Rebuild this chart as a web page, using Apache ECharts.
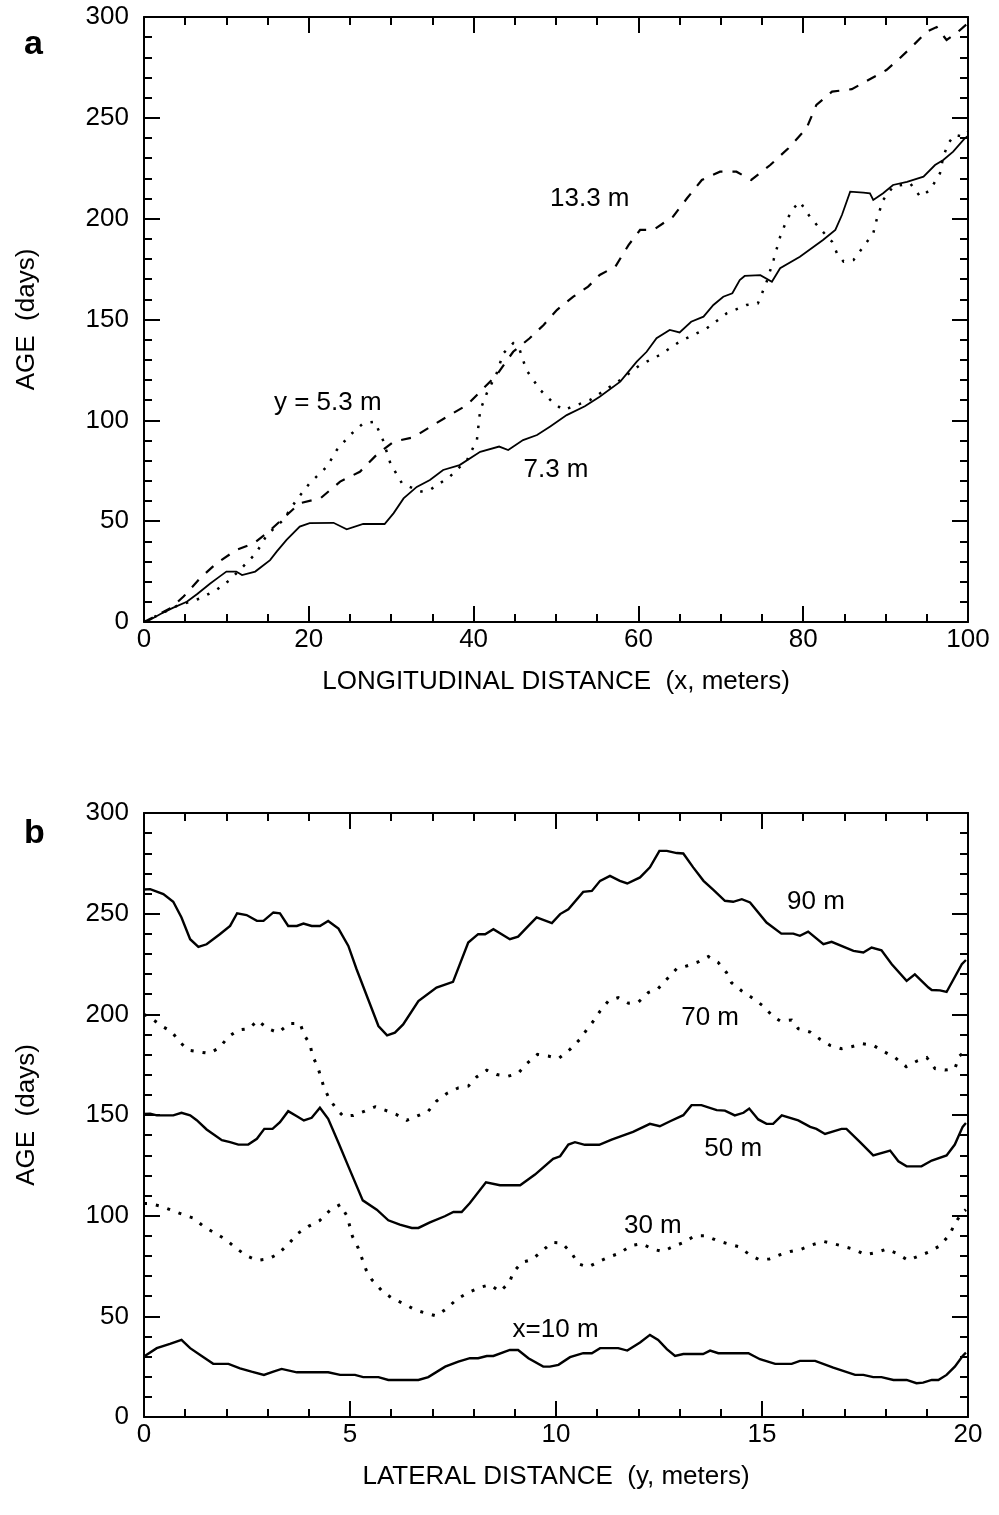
<!DOCTYPE html>
<html>
<head>
<meta charset="utf-8">
<script src="https://cdn.jsdelivr.net/npm/echarts@6/dist/echarts.min.js"></script>
<style>
html,body{margin:0;padding:0;background:#fff;}
#c{width:999px;height:1515px;}
</style>
</head>
<body>
<div id="c"></div>
<script>
// ---------- Panel a: AGE vs LONGITUDINAL DISTANCE ----------
const aXTicks = [0, 20, 40, 60, 80, 100];
const aYTicks = [0, 50, 100, 150, 200, 250, 300];

// y = 7.3 m (solid)
const a73 = [[0,0],[0.7,1],[2,4],[3.5,7],[5.2,10],[6.5,14],[8,19],[9,22],[10,25],[11.2,25],[11.9,23.3],[13.5,25],[15.3,30.7],[16.1,34.9],[17.3,40.7],[18.9,47.3],[20.1,49],[23,49.2],[24.6,46],[26.6,48.6],[29.2,48.6],[30.3,54],[31.5,61.3],[33.1,67],[34.7,70.4],[36.3,75.4],[38.3,77.8],[40.8,84.4],[43.1,87],[44.2,85.3],[46,90.2],[47.7,92.7],[49.3,97],[51.3,102.6],[53.5,107],[55.3,111.7],[57.8,119.2],[59.8,129.1],[61,134],[62.2,140.7],[63.8,144.8],[65,143.6],[66.4,148.9],[67.9,151.4],[69.1,157.2],[70.3,161.3],[71.4,163],[72.3,169.6],[72.9,171.6],[74.8,172],[76.2,168.7],[77.2,175.4],[79.6,181.1],[82.4,189.4],[83.9,194.4],[84.7,201.8],[85.7,213.4],[87.3,212.9],[88.1,212.6],[88.5,209.3],[89.7,212.6],[90.9,216.7],[92.6,218.3],[94.6,220.8],[96,226.6],[97,229.1],[98.2,233.2],[99.6,239.8],[100,241]];

// y = 5.3 m (dotted)
const a53 = [[0,0],[2,4],[4,8],[6.8,11.7],[8.8,15.9],[10.4,20.8],[12,27.4],[13.6,34.1],[14.9,43.1],[16.9,50.6],[18.5,60.5],[20.1,68.8],[22.2,77],[23.4,85.3],[25,92.7],[26.6,98.5],[28,99.3],[29,90.2],[29.9,78.7],[31.3,68.8],[33.5,64.6],[34.7,65.5],[37.1,72],[39.2,80.3],[40.4,90.2],[40.8,105],[41.6,113.4],[42.8,123.3],[43.6,133.2],[44.8,138.2],[45.6,134.9],[46.4,125],[48.1,115],[49.7,108.6],[50.9,105.1],[54.1,110],[57.8,120],[60.2,127.4],[62.6,132.4],[65,139],[68.3,145.6],[70.7,153],[73.1,157.2],[74.5,158],[75.5,167.9],[76.4,179.5],[77.2,191],[78,199.3],[78.8,205.1],[79.6,208.4],[80.8,201],[82,195.2],[83.5,188.6],[84.1,182.8],[84.9,178.7],[86.1,179.5],[87.3,186.1],[88.5,192.7],[88.9,199.3],[89.7,209.3],[90.9,215.9],[93,217.5],[94.2,210.9],[95.4,214.2],[96.6,222.5],[97,230.7],[97.6,237.4],[98.4,241.5],[99.4,240.7],[100,243]];

// y = 13.3 m (dashed)
const a133 = [[0,0],[3.2,6.8],[4.8,12.6],[6.8,21.7],[8.8,29.1],[11.2,35.7],[13.3,39],[14.9,44],[16.9,51.4],[18.9,58.9],[21.4,61.3],[23.8,69.6],[26.2,74.5],[28.2,82.8],[30.3,89.4],[32.7,91.6],[35.1,97.7],[37.1,102.6],[39.2,107.6],[41.2,115.9],[42.8,122.5],[44.8,134],[46.8,140.7],[48.5,147.3],[50.1,154.7],[52.1,161.3],[53.9,166.3],[55.3,172.1],[57.2,176.2],[58.8,186.9],[60.2,194.4],[61.8,194.4],[64.2,201],[65.9,210.1],[67.7,219.2],[69.9,223.3],[71.9,223.3],[73.7,219.2],[76,226.6],[78.2,234.9],[80.4,244.8],[81.6,256.4],[83.5,263],[85.9,264.2],[88.3,269.6],[90.1,273.7],[91.7,279.5],[93.2,285.3],[95,292.7],[96.2,295],[97.4,288.6],[98.6,292],[100,297]];

const aLabels = [
  {name: '13.3 m', value: [54.1, 209.7]},
  {name: 'y = 5.3 m', value: [22.3, 108.6]},
  {name: '7.3 m', value: [50, 75.4]}
];

// ---------- Panel b: AGE vs LATERAL DISTANCE ----------
const bXTicks = [0, 5, 10, 15, 20];
const bYTicks = [0, 50, 100, 150, 200, 250, 300];

// x = 90 m (solid)
const b90 = [[0,262],[0.15,262.2],[0.47,259.7],[0.71,255.9],[0.91,248.1],[1.12,237.3],[1.32,233.5],[1.52,234.8],[1.84,239.8],[2.09,243.9],[2.26,250.2],[2.49,249.3],[2.74,246.4],[2.9,246.4],[3.14,250.6],[3.3,250.2],[3.5,243.9],[3.71,243.9],[3.87,245.1],[4.07,243.9],[4.27,243.9],[4.47,246.4],[4.72,242.6],[4.96,234],[5.16,222.4],[5.44,207.5],[5.69,194.2],[5.9,189.6],[6.09,190.9],[6.29,195],[6.66,206.6],[7.1,213.3],[7.5,216.1],[7.87,235.7],[8.11,239.8],[8.28,239.8],[8.48,242.3],[8.88,237.3],[9.08,238.6],[9.33,243.9],[9.53,248.1],[9.9,245.3],[10.1,249.8],[10.3,252.2],[10.66,260.8],[10.87,261.3],[11.07,266.3],[11.31,268.8],[11.55,266.3],[11.73,265],[12.04,268],[12.28,273],[12.51,281.2],[12.69,281.2],[12.93,280.1],[13.09,279.9],[13.33,273],[13.58,266.3],[13.82,261.8],[14.1,256.4],[14.3,255.9],[14.51,257.2],[14.71,255.6],[15.11,245.6],[15.47,240.1],[15.76,240.1],[15.92,239],[16.12,241.1],[16.49,234.8],[16.69,236],[17.22,231.5],[17.46,230.7],[17.66,233.2],[17.9,231.8],[18.15,224.9],[18.51,216.6],[18.71,219.9],[19.04,213.3],[19.12,212.1],[19.32,211.9],[19.48,211.1],[19.85,224.9],[19.95,227]];

// x = 70 m (dotted)
const b70 = [[0,200],[0.15,198.4],[0.43,194.2],[0.67,191.4],[0.87,186.2],[1.08,182.2],[1.32,181.4],[1.58,180.6],[1.83,183.4],[2.05,188.9],[2.29,192.2],[2.55,192.9],[2.76,197],[3.0,192.9],[3.26,190.9],[3.53,195.5],[3.79,195.5],[3.88,190],[4.03,185.1],[4.09,179.3],[4.21,174.3],[4.29,169],[4.37,163.5],[4.5,158],[4.68,152.7],[4.84,149.4],[5.08,149.8],[5.36,151.9],[5.61,154.1],[5.85,152.4],[6.13,150.2],[6.38,147.4],[6.62,149.4],[6.9,151.9],[7.1,156.9],[7.35,160.7],[7.63,163.5],[7.87,164.3],[8.08,169],[8.32,172.3],[8.56,170.1],[8.84,169.3],[9.08,170.6],[9.29,175.5],[9.55,180.1],[9.81,179.3],[10.06,178],[10.34,182.6],[10.58,187.6],[10.75,192.5],[10.91,196.7],[11.07,201.6],[11.27,206.6],[11.51,208.3],[11.76,205.5],[12,206.1],[12.24,210.8],[12.48,212.8],[12.73,218.3],[12.93,222.7],[13.17,224],[13.45,226],[13.7,228.7],[13.94,225.7],[14.14,220.7],[14.26,215.7],[14.51,211.6],[14.79,207.8],[15.03,204.1],[15.27,198.9],[15.44,196.7],[15.72,197.2],[15.88,192.9],[16.17,191.2],[16.41,187.6],[16.65,184.6],[16.93,182.9],[17.17,183.9],[17.44,185.4],[17.7,184.6],[17.94,181.7],[18.23,178.5],[18.5,174],[18.76,176.8],[19,178.5],[19.2,173],[19.44,172.3],[19.68,173],[19.79,179.3],[19.95,182]];

// x = 50 m (solid)
const b50 = [[0,150.5],[0.15,150.7],[0.31,149.8],[0.71,149.8],[0.91,151.1],[1.12,149.8],[1.28,147.4],[1.52,142.8],[1.89,137.5],[2.09,136.5],[2.29,135.3],[2.53,135.3],[2.74,138.2],[2.92,143.1],[3.12,143.1],[3.3,146.4],[3.5,151.9],[3.71,149.4],[3.88,147.3],[4.07,148.6],[4.27,153.6],[4.47,148.1],[4.72,136.2],[4.96,124.5],[5.31,107.6],[5.65,103],[5.93,97.7],[6.21,95.5],[6.5,93.9],[6.66,93.9],[6.94,96.7],[7.3,99.7],[7.51,101.8],[7.71,101.8],[7.91,106.3],[8.3,116.6],[8.64,115.1],[9.13,115.1],[9.49,120.4],[9.93,128.2],[10.1,129.5],[10.3,135.3],[10.46,136.5],[10.7,135.2],[11.05,135.2],[11.35,137.8],[11.87,141.6],[12.28,145.6],[12.52,144.4],[12.77,146.9],[13.09,149.9],[13.29,154.9],[13.53,154.9],[13.9,152.4],[14.1,152.2],[14.34,149.8],[14.55,151.1],[14.69,153.2],[14.91,147.8],[15.11,145.6],[15.27,145.6],[15.48,149.8],[15.88,147.3],[16.17,144.1],[16.32,143.1],[16.53,140.6],[16.93,143.1],[17.05,143.1],[17.38,136.5],[17.7,129.9],[18.11,132.3],[18.31,127],[18.51,124.5],[18.87,124.5],[19.12,127.4],[19.48,129.9],[19.68,135.3],[19.87,144.1],[19.95,146]];

// x = 30 m (dotted)
const b30 = [[0,106],[0.15,106],[0.43,104.6],[0.95,100.5],[1.2,98.8],[1.46,94.4],[1.72,91.4],[1.99,88.1],[2.23,83.9],[2.49,80.1],[2.75,77.8],[3.02,78.5],[3.26,81.1],[3.53,86.4],[3.72,91],[3.99,94.7],[4.26,97.5],[4.51,102.6],[4.76,105.5],[4.93,99.7],[5.06,89.7],[5.2,83.9],[5.39,73.1],[5.53,68.2],[5.79,62.3],[6.05,58.6],[6.32,56.2],[6.58,53.2],[6.84,51.6],[7.09,50.2],[7.33,53.6],[7.6,58.6],[7.87,61.8],[8.14,64.3],[8.4,65.7],[8.64,62.3],[8.87,66.8],[8.96,71.8],[9.17,76.8],[9.41,78.1],[9.65,82.2],[9.9,86.7],[10.14,86.4],[10.38,81.4],[10.54,76.1],[10.78,74.5],[11.05,77.3],[11.29,79.5],[11.55,81.4],[11.81,85.1],[12.08,86.1],[12.34,83.4],[12.59,82.2],[12.85,84.7],[13.1,86.7],[13.37,90],[13.64,90],[13.9,87.7],[14.16,86.1],[14.42,84.7],[14.67,81.1],[14.93,78.1],[15.18,78.5],[15.44,80.6],[15.69,82.2],[15.96,83.4],[16.23,85.6],[16.49,87.2],[16.73,86.1],[16.99,84.7],[17.26,83.1],[17.5,80.6],[17.77,81.7],[18.03,83.4],[18.28,81.1],[18.55,77.8],[18.82,80.1],[19.08,82.2],[19.32,85.1],[19.55,90.5],[19.68,96],[19.85,101.3],[19.95,103]];

// x = 10 m (solid)
const b10 = [[0,30],[0.31,34.2],[0.63,36.3],[0.91,38.3],[1.12,34.2],[1.4,30.3],[1.68,26.4],[2.05,26.4],[2.33,24.2],[2.61,22.5],[2.91,20.9],[3.14,22.5],[3.34,23.9],[3.71,22.2],[4.07,22.2],[4.47,22.2],[4.76,20.9],[5.12,20.9],[5.32,19.8],[5.69,19.8],[5.93,18.4],[6.66,18.4],[6.9,19.8],[7.31,25],[7.63,27.5],[7.91,29.2],[8.11,29.2],[8.32,30.3],[8.48,30.3],[8.88,33.3],[9.08,33.3],[9.33,29.2],[9.69,25],[9.85,25],[10.06,25.9],[10.34,29.7],[10.66,31.7],[10.87,31.7],[11.07,34.2],[11.51,34.2],[11.73,33],[12.04,37],[12.28,40.8],[12.48,38.3],[12.69,33.7],[12.89,30.3],[13.09,31.3],[13.57,31.3],[13.74,33],[13.94,31.7],[14.67,31.7],[14.95,28.7],[15.32,26.4],[15.72,26.4],[15.92,27.9],[16.29,27.9],[16.73,24.5],[17.26,20.9],[17.46,20.9],[17.7,19.8],[17.9,19.8],[18.19,18.4],[18.51,18.4],[18.75,16.8],[18.91,17.1],[19.12,18.4],[19.28,18.4],[19.48,20.9],[19.68,25],[19.87,30.3],[19.95,32]];

const bLabels = [
  {name: '90 m', value: [16.31, 255.7]},
  {name: '70 m', value: [13.74, 198.5]},
  {name: '50 m', value: [14.3, 133.3]},
  {name: '30 m', value: [12.35, 95]},
  {name: 'x=10 m', value: [9.99, 43.3]}
];

// ---------- chart ----------
const FONT = 'Liberation Sans, Arial, Helvetica, sans-serif';
const FS = 26;
const black = '#000';

function axis(kind, grid, pos, min, max, interval, minorSplit, showLabel, name, nameGap) {
  const a = {
    type: 'value', gridIndex: grid, position: pos, min: min, max: max, interval: interval,
    axisLine: {show: true, onZero: false, lineStyle: {color: black, width: 2}},
    axisTick: {show: true, inside: true, length: 16, lineStyle: {color: black, width: 2}},
    minorTick: {show: true, splitNumber: minorSplit, length: 8, lineStyle: {color: black, width: 2}},
    splitLine: {show: false}, minorSplitLine: {show: false},
    axisLabel: {show: showLabel, color: black, fontSize: FS, fontFamily: FONT,
                margin: kind === 'x' ? 5 : 15, showMinLabel: true, showMaxLabel: true}
  };
  if (name) {
    a.name = name; a.nameLocation = 'middle'; a.nameGap = nameGap;
    a.nameTextStyle = {color: black, fontSize: FS, fontFamily: FONT};
  }
  return a;
}

const chart = echarts.init(document.getElementById('c'), null, {renderer: 'canvas'});

function lineSeries(data, xi, yi, type, width) {
  return {
    type: 'line', data: data, xAxisIndex: xi, yAxisIndex: yi,
    showSymbol: false, symbol: 'none', smooth: false, silent: true,
    lineStyle: {color: black, width: width, type: type, cap: 'butt', join: 'miter'},
    z: 3
  };
}
function labelSeries(data, xi, yi) {
  return {
    type: 'scatter', data: data, xAxisIndex: xi, yAxisIndex: yi,
    symbolSize: 0, silent: true, itemStyle: {color: black, opacity: 1},
    label: {show: true, position: 'inside', formatter: p => p.name,
            color: black, fontSize: FS, fontFamily: FONT,
            textBorderWidth: 0, textShadowBlur: 0, opacity: 1},
    z: 5
  };
}

const option = {
  animation: false,
  backgroundColor: '#fff',
  grid: [
    {left: 144, top: 17, width: 824, height: 605},
    {left: 144, top: 813, width: 824, height: 604}
  ],
  xAxis: [
    axis('x', 0, 'bottom', aXTicks[0], aXTicks[aXTicks.length-1], aXTicks[1]-aXTicks[0], 4, true, 'LONGITUDINAL DISTANCE  (x, meters)', 47),
    axis('x', 0, 'top', aXTicks[0], aXTicks[aXTicks.length-1], aXTicks[1]-aXTicks[0], 4, false),
    axis('x', 1, 'bottom', bXTicks[0], bXTicks[bXTicks.length-1], bXTicks[1]-bXTicks[0], 5, true, 'LATERAL DISTANCE  (y, meters)', 47),
    axis('x', 1, 'top', bXTicks[0], bXTicks[bXTicks.length-1], bXTicks[1]-bXTicks[0], 5, false)
  ],
  yAxis: [
    axis('y', 0, 'left', aYTicks[0], aYTicks[aYTicks.length-1], aYTicks[1]-aYTicks[0], 5, true, 'AGE  (days)', 104),
    axis('y', 0, 'right', aYTicks[0], aYTicks[aYTicks.length-1], aYTicks[1]-aYTicks[0], 5, false),
    axis('y', 1, 'left', bYTicks[0], bYTicks[bYTicks.length-1], bYTicks[1]-bYTicks[0], 5, true, 'AGE  (days)', 104),
    axis('y', 1, 'right', bYTicks[0], bYTicks[bYTicks.length-1], bYTicks[1]-bYTicks[0], 5, false)
  ],
  graphic: [
    {type: 'text', left: 24, top: 28, style: {text: 'a', fill: black, font: 'bold 34px ' + FONT}},
    {type: 'text', left: 24, top: 817, style: {text: 'b', fill: black, font: 'bold 34px ' + FONT}}
  ],
  series: [
    lineSeries(a73, 0, 0, 'solid', 1.8),
    lineSeries(a53, 0, 0, [2.5, 9], 2.5),
    lineSeries(a133, 0, 0, [10, 10], 2.2),
    labelSeries(aLabels, 0, 0),
    lineSeries(b90, 2, 2, 'solid', 2.4),
    lineSeries(b70, 2, 2, [3, 9], 3),
    lineSeries(b50, 2, 2, 'solid', 2.4),
    lineSeries(b30, 2, 2, [3, 9], 3),
    lineSeries(b10, 2, 2, 'solid', 2.4),
    labelSeries(bLabels, 2, 2)
  ]
};
chart.setOption(option);
</script>
</body>
</html>
